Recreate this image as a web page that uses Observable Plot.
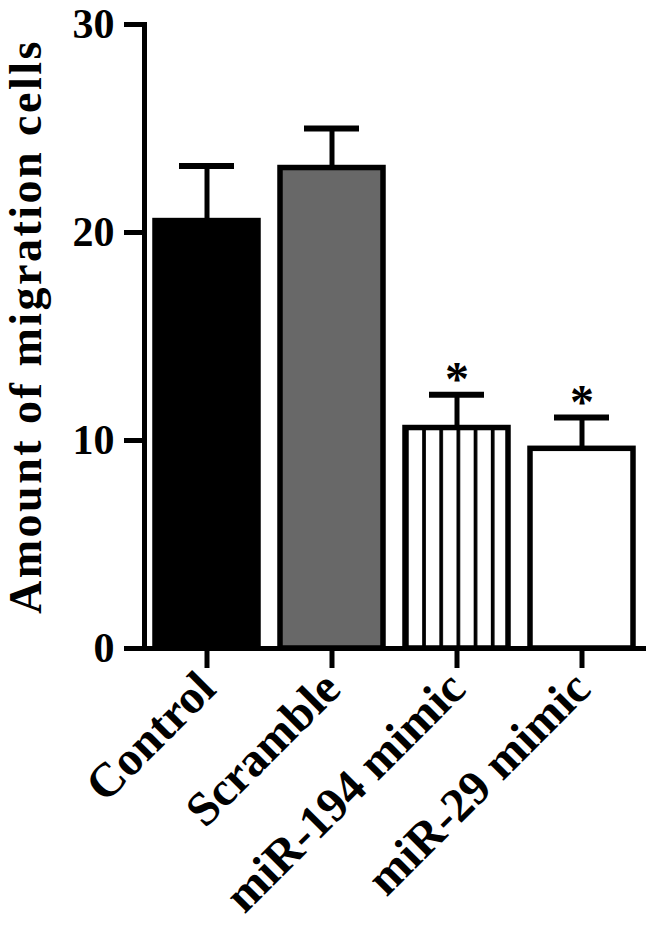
<!DOCTYPE html>
<html>
<head>
<meta charset="utf-8">
<script src="https://cdn.jsdelivr.net/npm/d3@7"></script>
<script src="https://cdn.jsdelivr.net/npm/@observablehq/plot@0.6"></script>
<style>
  html, body { margin: 0; padding: 0; background: #fff; }
</style>
</head>
<body>
<div id="chart"></div>
<script>
const categories = ["Control", "Scramble", "miR-194 mimic", "miR-29 mimic"];
const means = [20.55, 23.1, 10.6, 9.6];
const errors = [2.65, 1.9, 1.6, 1.5];
const marks = ["", "", "*", "*"];
const yTicks = [0, 10, 20, 30];
const yLabel = "Amount of migration cells";

const data = categories.map((c, i) => ({category: c, mean: means[i], top: means[i] + errors[i], mark: marks[i]}));
const fillRange = ["#000000", "#686868", "url(#vstripes)", "#ffffff"];
const font = "'Liberation Serif', 'Times New Roman', serif";

const chart = Plot.plot({
  width: 646,
  height: 926,
  marginLeft: 144,
  marginRight: 2,
  marginTop: 24,
  marginBottom: 278,
  style: {fontFamily: font, fontWeight: "bold", background: "#fff"},
  x: {domain: categories, paddingInner: 0.18, paddingOuter: 0.09, label: null},
  y: {domain: [0, 30], label: null},
  color: {domain: categories, range: fillRange},
  marks: [
    Plot.ruleX(data, {x: "category", y1: "mean", y2: "top", strokeWidth: 5, stroke: "#000"}),
    Plot.tickY(data, {x: "category", y: "top", strokeWidth: 6, stroke: "#000", insetLeft: 24, insetRight: 24}),
    Plot.barY(data, {x: "category", y: "mean", fill: "category", stroke: "#000", strokeWidth: 5.5}),
    Plot.text(data, {x: "category", y: "top", text: "mark", lineAnchor: "bottom", dy: 0, fontSize: 48, fontWeight: "bold", fill: "#000"}),
    Plot.axisY({ticks: yTicks, tickFormat: d => String(d), tickSize: 20, tickPadding: 10, strokeWidth: 5, fontSize: 42, fontWeight: "bold", label: null}),
    Plot.axisX({tickSize: 20, strokeWidth: 5, tickRotate: -45, tickPadding: 12, fontSize: 48, fontWeight: "bold", label: null}),
    Plot.frame({anchor: "left", strokeWidth: 5, stroke: "#000"}),
    Plot.frame({anchor: "bottom", strokeWidth: 5, stroke: "#000"}),
    Plot.text([yLabel], {text: d => d, frameAnchor: "left", rotate: -90, dx: -118, dy: -10, fontSize: 46, fontWeight: "bold", fill: "#000", textAnchor: "middle", lineAnchor: "middle"})
  ]
});

// letter spacing for the rotated y label
d3.select(chart).selectAll("text").filter(function() { return this.textContent === yLabel; })
  .style("letter-spacing", "2.5px");

const defs = d3.select(chart).insert("defs", ":first-child");
const pat = defs.append("pattern")
  .attr("id", "vstripes")
  .attr("patternUnits", "objectBoundingBox")
  .attr("patternContentUnits", "objectBoundingBox")
  .attr("width", 1 / 6)
  .attr("height", 1);
pat.append("rect").attr("width", 1).attr("height", 1).attr("fill", "#fff");
pat.append("rect").attr("x", 0).attr("width", 0.036).attr("height", 1).attr("fill", "#000");

document.getElementById("chart").appendChild(chart);
</script>
</body>
</html>
